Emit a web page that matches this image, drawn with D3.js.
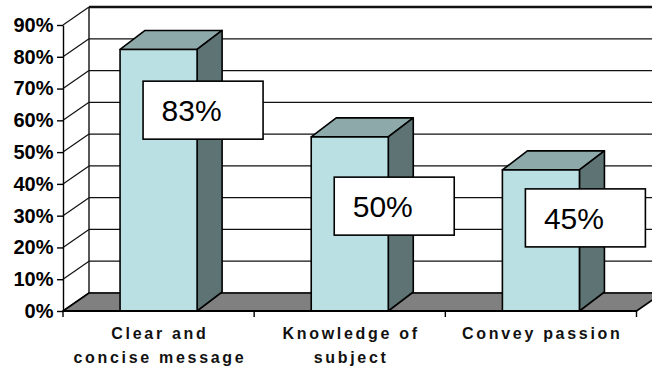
<!DOCTYPE html>
<html>
<head>
<meta charset="utf-8">
<script src="https://cdn.jsdelivr.net/npm/d3@7"></script>
<style>
  body { margin: 0; background: #fff; }
  svg { display: block; }
  .tick text { font-family: Arial, "Liberation Sans", sans-serif; font-weight: bold; }
</style>
</head>
<body>
<div id="chart"></div>
<script>
; (function () {
    // data
    const categories = ["Clear and concise message", "Knowledge of subject", "Convey passion"]
    const categoryLines = [["Clear and", "concise message"], ["Knowledge of", "subject"], ["Convey passion"]]
    const values = [0.823, 0.548, 0.444]           // bar heights as drawn
    const valueLabels = ["83%", "50%", "45%"]       // text printed in the boxes
    const labelAt = [0.632, 0.330, 0.293]           // where each box sits on the value axis
    const yTicks = [0, 0.1, 0.2, 0.3, 0.4, 0.5, 0.6, 0.7, 0.8, 0.9]

    const width = 652, height = 367
    const left = 63, right = 636.5, bottom = 311, top = 25
    const wallDx = 26, wallDy = -18   // depth of floor / side wall
    const barDx = 25, barDy = -19     // depth of each column

    const svg = d3.select("#chart")
        .append("svg")
        .attr("width", width)
        .attr("height", height)

    const xPositionScale = d3.scaleBand().domain(categories).range([left, right]).padding(0)
    const yPositionScale = d3.scaleLinear().domain([0, 0.9]).range([bottom, top])
    const formatPercent = d3.format(".0%")

    const pts = arr => arr.map(p => p.join(",")).join(" ")

    // back wall gridlines
    svg.append("g")
        .selectAll("line")
        .data(yTicks)
        .join("line")
        .attr("x1", left + wallDx)
        .attr("x2", right + wallDx)
        .attr("y1", d => yPositionScale(d) + wallDy)
        .attr("y2", d => yPositionScale(d) + wallDy)
        .attr("stroke", "#111")
        .attr("stroke-width", d => d === 0.9 ? 2.6 : 1.2)

    // side wall: diagonals + back vertical edge
    svg.append("g")
        .selectAll("line")
        .data(yTicks)
        .join("line")
        .attr("x1", left)
        .attr("x2", left + wallDx)
        .attr("y1", d => yPositionScale(d))
        .attr("y2", d => yPositionScale(d) + wallDy)
        .attr("stroke", "#111")
        .attr("stroke-width", 1.2)

    svg.append("line")
        .attr("x1", left + wallDx).attr("x2", left + wallDx)
        .attr("y1", yPositionScale(0) + wallDy)
        .attr("y2", yPositionScale(0.9) + wallDy)
        .attr("stroke", "#111")
        .attr("stroke-width", 1.4)

    // floor
    svg.append("polygon")
        .attr("points", pts([
            [left, bottom], [right, bottom],
            [right + wallDx, bottom + wallDy], [left + wallDx, bottom + wallDy]
        ]))
        .attr("fill", "#808080")
        .attr("stroke", "#000")
        .attr("stroke-width", 1.6)
        .attr("stroke-linejoin", "round")

    // columns
    const barW = xPositionScale.bandwidth() * 0.403
    const barX = c => xPositionScale(c) + (xPositionScale.bandwidth() - barW) / 2

    const bars = svg.append("g")
        .selectAll("g")
        .data(categories)
        .join("g")

    bars.append("polygon") // top
        .attr("points", (c, i) => {
            const x0 = barX(c), y0 = yPositionScale(values[i])
            return pts([[x0, y0], [x0 + barW, y0], [x0 + barW + barDx, y0 + barDy], [x0 + barDx, y0 + barDy]])
        })
        .attr("fill", "#8DA9AA")

    bars.append("polygon") // side
        .attr("points", (c, i) => {
            const x1 = barX(c) + barW, y0 = yPositionScale(values[i]), y1 = yPositionScale(0)
            return pts([[x1, y0], [x1 + barDx, y0 + barDy], [x1 + barDx, y1 + barDy], [x1, y1]])
        })
        .attr("fill", "#5E7374")

    bars.append("rect") // front
        .attr("x", c => barX(c))
        .attr("y", (c, i) => yPositionScale(values[i]))
        .attr("width", barW)
        .attr("height", (c, i) => yPositionScale(0) - yPositionScale(values[i]))
        .attr("fill", "#BAE0E3")

    bars.selectAll("polygon, rect")
        .attr("stroke", "#000")
        .attr("stroke-width", 1.6)
        .attr("stroke-linejoin", "round")

    // value axis
    const yAxis = d3.axisLeft(yPositionScale)
        .tickValues(yTicks)
        .tickFormat(formatPercent)
        .tickSize(6)
        .tickSizeOuter(0)
        .tickPadding(3.5)

    const yG = svg.append("g")
        .attr("class", "axis y-axis")
        .attr("transform", "translate(" + left + ",0)")
        .call(yAxis)
    yG.selectAll("line, path").attr("stroke", "#000").attr("stroke-width", 1.4)
    yG.selectAll("text").attr("fill", "#000").style("font-size", "20px")

    // category axis: line along the floor front, ticks at band edges
    svg.append("line")
        .attr("x1", left).attr("x2", right)
        .attr("y1", bottom).attr("y2", bottom)
        .attr("stroke", "#000")
        .attr("stroke-width", 2)

    const edges = categories.map(c => xPositionScale(c)).concat([right])
    svg.append("g")
        .selectAll("line")
        .data(edges)
        .join("line")
        .attr("x1", d => d).attr("x2", d => d)
        .attr("y1", bottom).attr("y2", bottom + 6)
        .attr("stroke", "#000")
        .attr("stroke-width", 1.4)

    const spacing = 2.7
    svg.append("g")
        .selectAll("text")
        .data(categories)
        .join("text")
        .attr("text-anchor", "middle")
        .attr("font-family", "Arial, 'Liberation Sans', sans-serif")
        .attr("font-weight", "bold")
        .attr("font-size", 16)
        .attr("letter-spacing", spacing)
        .attr("fill", "#111")
        .each(function (c, i) {
            const cx = xPositionScale(c) + xPositionScale.bandwidth() / 2 + spacing / 2
            d3.select(this).selectAll("tspan")
                .data(categoryLines[i])
                .join("tspan")
                .attr("x", cx)
                .attr("y", (d, j) => 338.5 + j * 24.5)
                .text(d => d)
        })

    // value label boxes
    const boxW = 120, boxH = 58
    const labels = svg.append("g")
        .selectAll("g")
        .data(categories)
        .join("g")
        .attr("transform", (c, i) => "translate(" + (barX(c) + 23) + "," + (yPositionScale(labelAt[i]) - boxH / 2) + ")")

    labels.append("rect")
        .attr("width", boxW)
        .attr("height", boxH)
        .attr("fill", "#fff")
        .attr("stroke", "#000")
        .attr("stroke-width", 1.6)

    labels.append("text")
        .attr("x", 18.5)
        .attr("y", boxH / 2)
        .attr("dy", "0.36em")
        .attr("font-family", "Arial, 'Liberation Sans', sans-serif")
        .attr("font-size", 30)
        .attr("fill", "#000")
        .text((c, i) => valueLabels[i])
})()
</script>
</body>
</html>
